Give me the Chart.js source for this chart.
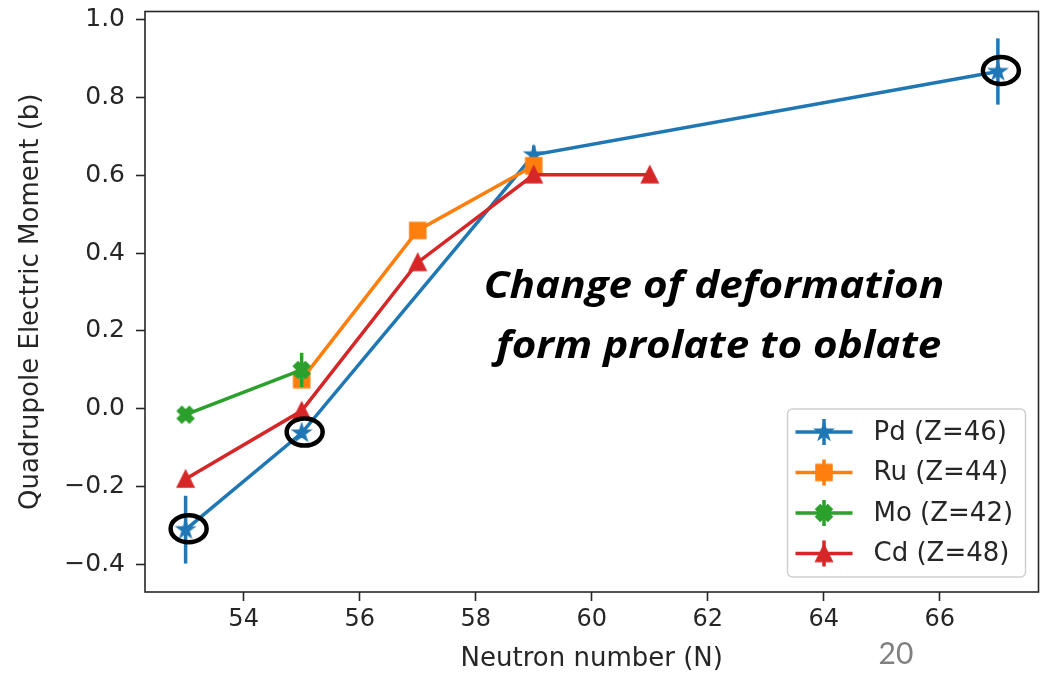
<!DOCTYPE html>
<html>
<head>
<meta charset="utf-8">
<title>Quadrupole moment vs neutron number</title>
<script src="https://cdn.jsdelivr.net/npm/chart.js@4"></script>
<style>
  body { margin: 0; background: #fff; }
  canvas { display: block; }
</style>
</head>
<body>
<canvas id="qChart" width="1050" height="675"></canvas>
<script>
//------------------------------------------------------------------------------
// data
//------------------------------------------------------------------------------
var neutronTicks = [54, 56, 58, 60, 62, 64, 66];
var momentTicks = [-0.4, -0.2, 0.0, 0.2, 0.4, 0.6, 0.8, 1.0];

var pdN = [53, 55, 59, 67];
var pdQ = [-0.31, -0.062, 0.652, 0.866];
var pdErr = [0.087, 0.012, 0.024, 0.085];

var ruN = [55, 57, 59];
var ruQ = [0.075, 0.458, 0.624];
var ruErr = [0, 0, 0];

var moN = [53, 55];
var moQ = [-0.015, 0.10];
var moErr = [0, 0.044];

var cdN = [53, 55, 57, 59, 61];
var cdQ = [-0.18, -0.005, 0.376, 0.601, 0.601];
var cdErr = [0, 0, 0, 0, 0];

// Pd points that get a black ring
var circledPd = [53, 55, 67];

var noteLines = ['Change of deformation', 'form prolate to oblate'];
var slideNo = '20';

//------------------------------------------------------------------------------
// marker images (matplotlib-like filled markers)
//------------------------------------------------------------------------------
var MS = 15;
function makeMarker(color, shape) {
  var c = document.createElement('canvas');
  c.width = 28; c.height = 28;
  var g = c.getContext('2d');
  g.translate(14, 14);
  var r = MS / 2;
  g.beginPath();
  if (shape === 'star') {
    for (var i = 0; i < 10; i++) {
      var rr = i % 2 ? r * 0.381966 : r;
      var a = -Math.PI / 2 + i * Math.PI / 5;
      g.lineTo(rr * Math.cos(a), rr * Math.sin(a));
    }
  } else if (shape === 'square') {
    g.rect(-r, -r, 2 * r, 2 * r);
  } else if (shape === 'triangle') {
    g.moveTo(0, -r); g.lineTo(r, r); g.lineTo(-r, r);
  } else if (shape === 'x') {
    var pts = [[-1,-2],[0,-1],[1,-2],[2,-1],[1,0],[2,1],[1,2],[0,1],[-1,2],[-2,1],[-1,0],[-2,-1]];
    pts.forEach(function (p) { g.lineTo(p[0] * r / 2, p[1] * r / 2); });
  }
  g.closePath();
  g.fillStyle = color;
  g.fill();
  g.strokeStyle = color;
  g.lineWidth = 2.5;
  g.lineJoin = 'miter';
  g.stroke();
  return c;
}

var series = [
  { label: 'Pd (Z=46)', n: pdN, q: pdQ, err: pdErr, color: '#1f77b4', shape: 'star' },
  { label: 'Ru (Z=44)', n: ruN, q: ruQ, err: ruErr, color: '#ff7f0e', shape: 'square' },
  { label: 'Mo (Z=42)', n: moN, q: moQ, err: moErr, color: '#2ca02c', shape: 'x' },
  { label: 'Cd (Z=48)', n: cdN, q: cdQ, err: cdErr, color: '#d62728', shape: 'triangle' }
];

var datasets = series.map(function (s, i) {
  var img = makeMarker(s.color, s.shape);
  s.img = img;
  return {
    label: s.label,
    data: s.n.map(function (n, k) { return { x: n, y: s.q[k] }; }),
    borderColor: s.color,
    backgroundColor: s.color,
    borderWidth: 3.5,
    tension: 0,
    fill: false,
    pointStyle: img,
    pointRadius: 8,
    pointHoverRadius: 8,
    order: series.length - 1 - i   // later series on top
  };
});

//------------------------------------------------------------------------------
// error bars, frame, rings, legend box, note text
//------------------------------------------------------------------------------
var TXT = '#262626';

var decorPlugin = {
  id: 'decor',
  beforeDatasetDraw: function (chart, args) {
    var s = series[args.index];
    var xs = chart.scales.x, ys = chart.scales.y;
    var ctx = chart.ctx;
    ctx.save();
    ctx.strokeStyle = s.color;
    ctx.lineWidth = 3.5;
    s.err.forEach(function (e, k) {
      if (!e) return;
      var px = xs.getPixelForValue(s.n[k]);
      ctx.beginPath();
      ctx.moveTo(px, ys.getPixelForValue(s.q[k] - e));
      ctx.lineTo(px, ys.getPixelForValue(s.q[k] + e));
      ctx.stroke();
    });
    ctx.restore();
  },
  afterDatasetsDraw: function (chart) {
    var ctx = chart.ctx, a = chart.chartArea;
    var xs = chart.scales.x, ys = chart.scales.y;
    ctx.save();

    // axes frame
    ctx.strokeStyle = TXT;
    ctx.lineWidth = 1.6;
    ctx.strokeRect(a.left, a.top, a.right - a.left, a.bottom - a.top);

    // rings round selected Pd points
    ctx.strokeStyle = '#000';
    ctx.lineWidth = 4.5;
    pdN.forEach(function (n, k) {
      if (circledPd.indexOf(n) < 0) return;
      ctx.beginPath();
      ctx.ellipse(xs.getPixelForValue(n) + 3, ys.getPixelForValue(pdQ[k]) - 1, 18, 13.5, 0, 0, 2 * Math.PI);
      ctx.stroke();
    });

    // legend box, lower right
    var w = 238, h = 168;
    var lx = a.right - 13 - w, ly = a.bottom - 15 - h;
    ctx.beginPath();
    ctx.roundRect(lx, ly, w, h, 5);
    ctx.fillStyle = 'rgba(255,255,255,0.8)';
    ctx.fill();
    ctx.strokeStyle = '#d0d0d0';
    ctx.lineWidth = 1.5;
    ctx.stroke();
    ctx.font = '26px "DejaVu Sans"';
    ctx.textBaseline = 'middle';
    ctx.textAlign = 'left';
    series.forEach(function (s, i) {
      var ry = ly + 23 + i * 40.5;
      var x0 = lx + 8, x1 = lx + 65, xc = (x0 + x1) / 2;
      ctx.strokeStyle = s.color;
      ctx.lineWidth = 3.5;
      ctx.beginPath();
      ctx.moveTo(x0, ry); ctx.lineTo(x1, ry);
      ctx.moveTo(xc, ry - 13); ctx.lineTo(xc, ry + 13);
      ctx.stroke();
      ctx.drawImage(s.img, xc - s.img.width / 2, ry - s.img.height / 2);
      ctx.fillStyle = TXT;
      ctx.fillText(s.label, lx + 86, ry + 1);
    });

    // note text, a little wider than the font's own proportions
    ctx.fillStyle = '#000';
    ctx.textAlign = 'center';
    ctx.textBaseline = 'alphabetic';
    ctx.font = 'italic bold 37px "Open Sans"';
    ctx.save();
    ctx.translate(714, 0);
    ctx.scale(1.14, 1);
    ctx.fillText(noteLines[0], 0, 298);
    ctx.fillText(noteLines[1], 4, 358);
    ctx.restore();
    ctx.restore();
  },
  afterDraw: function (chart) {
    var ctx = chart.ctx;
    ctx.save();
    ctx.fillStyle = '#808080';
    ctx.font = '30px Lato';
    ctx.textAlign = 'center';
    ctx.textBaseline = 'alphabetic';
    ctx.fillText(slideNo, 896, 664);
    ctx.restore();
  }
};

//------------------------------------------------------------------------------
// chart
//------------------------------------------------------------------------------
function fmtMoment(v) {
  var t = Math.abs(v).toFixed(1);
  return v < -1e-9 ? '\u2212' + t : t;
}

var chart = new Chart(document.getElementById('qChart'), {
  type: 'line',
  data: { datasets: datasets },
  options: {
    responsive: false,
    animation: false,
    layout: { padding: { left: 0, right: 10, top: 10, bottom: 0 } },
    plugins: { legend: { display: false }, tooltip: { enabled: false } },
    scales: {
      x: {
        type: 'linear',
        min: 52.3,
        max: 67.7,
        afterBuildTicks: function (s) { s.ticks = neutronTicks.map(function (v) { return { value: v }; }); },
        afterFit: function (s) { s.height = 83; s.paddingLeft = 0; s.paddingRight = 0; },
        grid: { drawOnChartArea: false, drawTicks: true, tickLength: 9, tickWidth: 1.6, tickColor: TXT },
        border: { display: false },
        ticks: {
          color: TXT,
          font: { family: 'DejaVu Sans', size: 24 },
          padding: 4,
          maxRotation: 0,
          autoSkip: false,
          callback: function (v) { return String(v); }
        },
        title: {
          display: true,
          text: 'Neutron number (N)',
          color: TXT,
          font: { family: 'DejaVu Sans', size: 26 },
          padding: { top: 0, bottom: 0 }
        }
      },
      y: {
        type: 'linear',
        min: -0.47,
        max: 1.02,
        afterBuildTicks: function (s) { s.ticks = momentTicks.map(function (v) { return { value: v }; }); },
        afterFit: function (s) { s.width = 145; s.paddingTop = 0; s.paddingBottom = 0; },
        grid: { drawOnChartArea: false, drawTicks: true, tickLength: 9, tickWidth: 1.6, tickColor: TXT },
        border: { display: false },
        ticks: {
          color: TXT,
          font: { family: 'DejaVu Sans', size: 25 },
          padding: 11,
          callback: function (v) { return fmtMoment(v); }
        },
        title: {
          display: true,
          text: 'Quadrupole Electric Moment (b)',
          color: TXT,
          font: { family: 'DejaVu Sans', size: 26 },
          padding: { top: 16, bottom: 0 }
        }
      }
    }
  },
  plugins: [decorPlugin]
});
</script>
</body>
</html>
